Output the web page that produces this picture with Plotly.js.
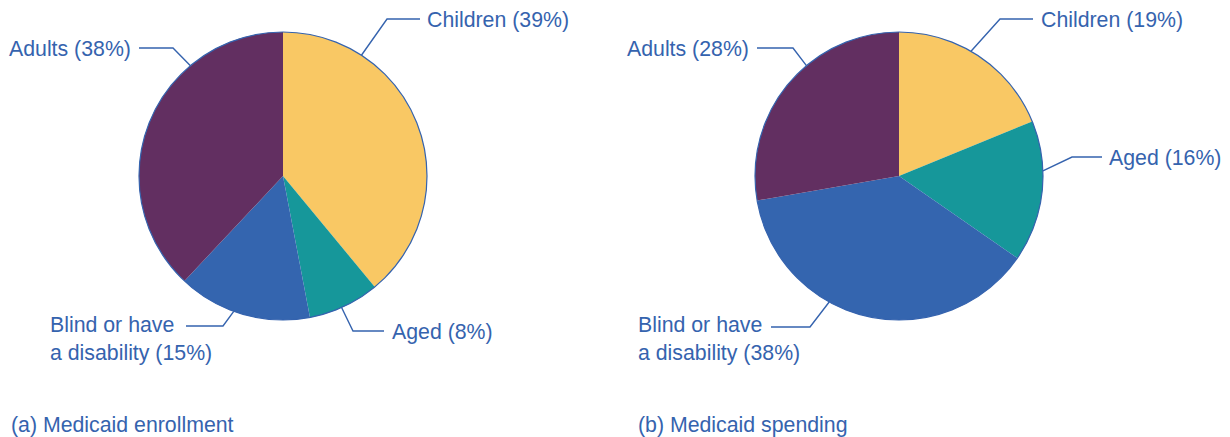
<!DOCTYPE html>
<html>
<head>
<meta charset="utf-8">
<script src="https://cdn.plot.ly/plotly-3.0.1.min.js"></script>
<style>html,body{margin:0;padding:0;background:#fff}#chart{width:1230px;height:437px}</style>
</head>
<body>
<div id="chart"></div>
<script>
// ---- data ----
const categories = ["Children", "Aged", "Blind or have a disability", "Adults"];
const labelText = ["Children", "Aged", "Blind or have<br>a disability", "Adults"];
const enrollment = [39, 8, 15, 38];
const spending = [19, 16, 38, 28];
const captions = ["(a) Medicaid enrollment", "(b) Medicaid spending"];
const sliceColors = ["#F9C864", "#16979A", "#3465AF", "#622F61"];

// ---- layout config (pixels) ----
const W = 1230, H = 437, R = 144;
const TXT = "#3563AE";
const FONT = "Liberation Sans, Arial, sans-serif";
const FS = 21.3;
const pies = [
  {cx: 283, cy: 176, values: enrollment, caption: captions[0], capX: 9,
   leaders: [
     {ang: 33,  elbow: [387, 19],  end: [420, 19],  tx: 425, ty: 20, xa: "left"},
     {ang: 156, elbow: [353, 331], end: [384, 331], tx: 390, ty: 332, xa: "left"},
     {ang: 200, elbow: [223, 326], end: [186, 326], tx: 48,  ty: 339, xa: "left"},
     {ang: 320, elbow: [173, 48],  end: [139, 48],  tx: 133, ty: 49, xa: "right"}
   ]},
  {cx: 899, cy: 176, values: spending, caption: captions[1], capX: 636,
   leaders: [
     {ang: 30,  elbow: [1000, 19], end: [1033, 19], tx: 1039, ty: 20, xa: "left"},
     {ang: 88,  elbow: [1072, 157], end: [1102, 157], tx: 1107, ty: 158, xa: "left"},
     {ang: 209, elbow: [810, 327], end: [771, 327], tx: 636, ty: 339, xa: "left"},
     {ang: 320, elbow: [793, 48],  end: [757, 48],  tx: 751, ty: 49, xa: "right"}
   ]}
];

const traces = [], shapes = [], annotations = [];
pies.forEach(p => {
  traces.push({
    type: "pie", labels: categories, values: p.values, sort: false,
    direction: "clockwise", rotation: 0, textinfo: "none",
    marker: {colors: sliceColors, line: {width: 0}},
    domain: {x: [(p.cx - R) / W, (p.cx + R) / W], y: [1 - (p.cy + R) / H, 1 - (p.cy - R) / H]},
    showlegend: false, hoverinfo: "label+value"
  });
  shapes.push({type: "circle", xref: "x", yref: "y", x0: p.cx - R, x1: p.cx + R, y0: p.cy - R, y1: p.cy + R,
    line: {color: TXT, width: 1.2}, layer: "above"});
  p.leaders.forEach((L, i) => {
    const a = L.ang * Math.PI / 180;
    const sx = p.cx + R * Math.sin(a), sy = p.cy - R * Math.cos(a);
    shapes.push({type: "path", xref: "x", yref: "y",
      path: `M${sx},${sy} L${L.elbow[0]},${L.elbow[1]} L${L.end[0]},${L.end[1]}`,
      line: {color: TXT, width: 1.4}});
    const pct = Math.round(p.values[i]);
    annotations.push({xref: "x", yref: "y", x: L.tx, y: L.ty, xanchor: L.xa, yanchor: "middle",
      align: "left", showarrow: false, text: `${labelText[i]} (${pct}%)`,
      font: {family: FONT, size: FS, color: TXT}});
  });
  annotations.push({xref: "x", yref: "y", x: p.capX, y: 425, xanchor: "left", yanchor: "middle",
    showarrow: false, text: p.caption, font: {family: FONT, size: FS, color: TXT}});
});

const layout = {
  width: W, height: H, margin: {l: 0, r: 0, t: 0, b: 0},
  paper_bgcolor: "#fff", plot_bgcolor: "rgba(0,0,0,0)",
  xaxis: {range: [0, W], visible: false, fixedrange: true},
  yaxis: {range: [H, 0], visible: false, fixedrange: true},
  shapes: shapes, annotations: annotations, showlegend: false
};
Plotly.newPlot("chart", traces, layout, {displayModeBar: false, staticPlot: true});
</script>
</body>
</html>
